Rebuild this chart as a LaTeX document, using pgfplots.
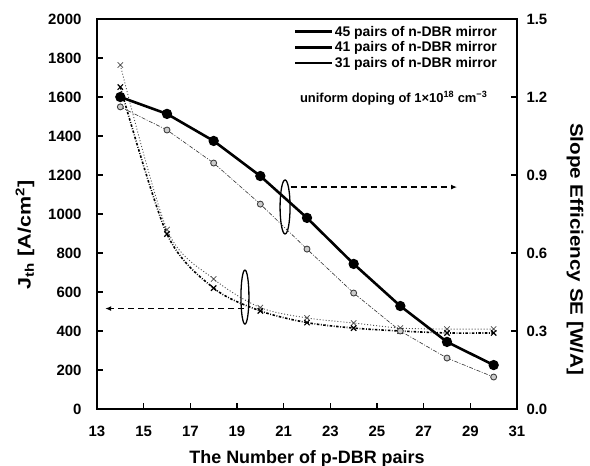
\documentclass[border=0pt]{standalone}
\usepackage{pgfplots}
\pgfplotsset{compat=1.18}
\usepackage{fontspec}
\setmainfont{Liberation Sans}
\usetikzlibrary{arrows.meta}
\begin{document}
\begin{tikzpicture}
\pgfplotsset{
  common/.style={scale only axis, width=420bp, height=390bp, xmin=13, xmax=31, clip=false,
    /pgf/number format/assume math mode=true,
    /pgf/number format/1000 sep={},
    tick label style={font=\fontsize{15}{18}\selectfont\bfseries},
    tick align=inside, major tick length=6bp,
    every tick/.style={black, line width=1.5pt}},
}
\begin{axis}[common, name=ax1,
  ymin=0, ymax=2000, ytick={0,200,...,2000}, xtick={13,15,...,31},
  ytick pos=left, xtick pos=bottom,
  yticklabel style={xshift=-12bp}, xticklabel style={yshift=-14bp},
  legend style={at={(rel axis cs:0.468,0.985)}, anchor=north west, draw=none, fill=none,
    font=\fontsize{14}{16}\selectfont\bfseries, row sep=2bp, inner sep=0pt, nodes={inner sep=1bp}},
  legend image code/.code={\draw[#1] (0bp,0bp) -- (37bp,0bp);},
  legend cell align=left,
]
\addlegendimage{black, line width=3pt}
\addlegendentry{45 pairs of n-DBR mirror}
\addlegendimage{black, line width=2.6pt}
\addlegendentry{41 pairs of n-DBR mirror}
\addlegendimage{black, line width=1.8pt}
\addlegendentry{31 pairs of n-DBR mirror}

% Jth, light dotted
\addplot[forget plot, black!70, line width=0.9pt, dash pattern=on 1pt off 2pt, smooth, tension=0.5,
  mark=x, mark size=3.8pt, mark options={solid, line width=0.7pt, black!70}]
  coordinates {(14,1764) (16,920) (18,667) (20,520) (22,467) (24,441) (26,415) (28,410) (30,410)};
% Jth, bold dash-dot
\addplot[forget plot, black, line width=1.6pt, dash pattern=on 2.5pt off 1.6pt on 0.8pt off 1.6pt, smooth, tension=0.5,
  mark=x, mark size=3.8pt, mark options={solid, line width=1.2pt, black}]
  coordinates {(14,1651) (16,897) (18,620) (20,503) (22,443) (24,415) (26,400) (28,390) (30,390)};

% annotations
\draw[line width=1.3pt] (axis cs:21.06,1036) ellipse [x radius=5bp, y radius=27bp];
\draw[line width=1.2pt, dash pattern=on 6bp off 4bp, -{Latex[length=6bp,width=5bp]}] (axis cs:21.3,1138) -- (axis cs:28.43,1138);
\draw[line width=1.3pt] (axis cs:19.34,574) ellipse [x radius=4bp, y radius=27bp];
\draw[line width=1.2pt, dash pattern=on 6bp off 4bp, -{Latex[length=6bp,width=5bp]}] (axis cs:19.3,515) -- (axis cs:13.35,515);

\node[anchor=west, font=\fontsize{13}{15}\selectfont\bfseries] at (rel axis cs:0.475,0.797)
  {uniform doping of 1×10\textsuperscript{18} cm\textsuperscript{−3}};

\node[xshift=-72bp, rotate=90, font=\fontsize{18}{20}\selectfont\bfseries] at (rel axis cs:0,0.446)
  {\scalebox{1.2}[1]{J\textsubscript{th} [A/cm\textsuperscript{2}]}};
\node[yshift=-50bp, font=\fontsize{18}{20}\selectfont\bfseries] at (rel axis cs:0.5,0)
  {The Number of p-DBR pairs};
\end{axis}

\begin{axis}[common,
  ymin=0, ymax=1.5, ytick={0,0.3,0.6,0.9,1.2,1.5},
  axis x line=none, axis y line*=right,
  axis line style={-, line width=2.6pt},
  yticklabel style={/pgf/number format/fixed, /pgf/number format/fixed zerofill,
    /pgf/number format/precision=1, xshift=6bp},
]
% SE, thin dash-dot grey circles
\addplot[black!80, line width=0.6pt, dash pattern=on 4pt off 1.5pt on 1pt off 1.5pt,
  mark=*, mark size=3pt, mark options={solid, fill=black!20, draw=black!75, line width=0.9pt}]
  coordinates {(14,1.162) (16,1.073) (18,0.946) (20,0.788) (22,0.615) (24,0.446) (26,0.300) (28,0.196) (30,0.123)};
% SE, thick solid
\addplot[black, line width=2.6pt, mark=*, mark size=3.8pt, mark options={solid}]
  coordinates {(14,1.200) (16,1.135) (18,1.031) (20,0.896) (22,0.735) (24,0.558) (26,0.396) (28,0.258) (30,0.169)};

\node[xshift=58bp, rotate=-90, font=\fontsize{18}{20}\selectfont\bfseries] at (rel axis cs:1,0.41)
  {\scalebox{1.15}[1]{Slope Efficiency SE [W/A]}};
\end{axis}
\draw[line width=2.6pt] (ax1.south west) rectangle (ax1.north east);
\pgfresetboundingbox
\path ([shift={(-97bp,-57bp)}]ax1.south west) rectangle ([shift={(73bp,19bp)}]ax1.north east);
\end{tikzpicture}
\end{document}
